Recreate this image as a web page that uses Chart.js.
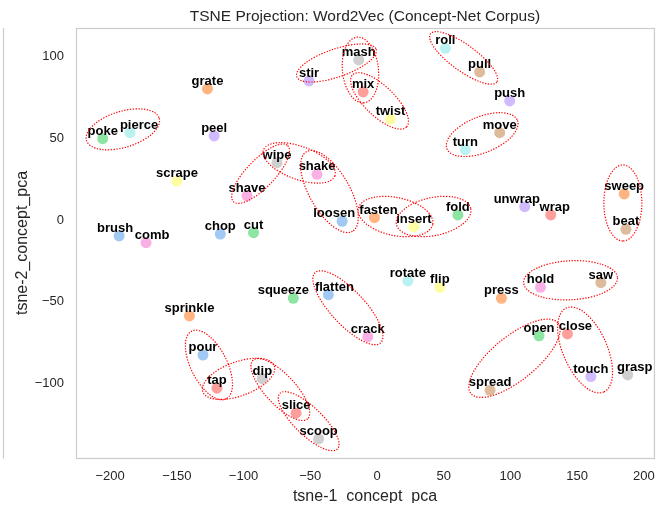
<!DOCTYPE html>
<html>
<head>
<meta charset="utf-8">
<script src="https://cdn.jsdelivr.net/npm/chart.js@4"></script>
<style>
  html, body { margin: 0; padding: 0; background: #fff; }
  canvas { display: block; }
</style>
</head>
<body>
<canvas id="tsneChart" width="666" height="505"></canvas>
<script>
// words and their t-SNE coordinates
const words = ["grate", "stir", "mash", "mix", "poke", "pierce", "peel", "wipe", "shake", "scrape",
    "shave", "loosen", "roll", "pull", "push", "twist", "move", "turn", "sweep", "unwrap",
    "wrap", "fold", "fasten", "insert", "brush", "comb", "chop", "cut", "squeeze", "flatten",
    "sprinkle", "pour", "tap", "dip", "slice", "scoop", "beat", "rotate", "flip", "press",
    "hold", "saw", "crack", "open", "close", "touch", "grasp", "spread"];
const xValues = [-127.0, -50.9, -13.7, -10.4, -205.5, -185.0, -122.0, -74.9, -44.9, -149.9,
    -97.4, -26.1, 51.2, 76.9, 99.4, 10.1, 91.9, 66.2, 185.2, 110.7,
    130.2, 60.6, -1.9, 27.6, -193.2, -173.0, -117.4, -92.5, -62.7, -36.4,
    -140.5, -130.4, -119.9, -85.9, -60.6, -43.7, 186.5, 23.1, 47.1, 93.2,
    122.5, 167.7, -6.9, 121.4, 142.7, 160.2, 187.8, 84.7];
const yValues = [80.1, 85.0, 97.9, 78.3, 49.7, 53.4, 51.4, 35.0, 27.9, 23.7,
    14.9, -0.8, 105.0, 90.5, 72.8, 61.6, 53.4, 43.0, 15.9, 8.1,
    3.1, 3.1, 1.4, -4.1, -9.8, -13.9, -8.6, -7.8, -47.9, -45.7,
    -58.7, -82.6, -102.9, -97.1, -118.2, -133.9, -5.7, -37.3, -41.2, -47.9,
    -41.2, -38.3, -71.4, -70.9, -69.7, -95.8, -94.8, -104.2];

const xTicks = [-200, -150, -100, -50, 0, 50, 100, 150, 200];
const yTicks = [-100, -50, 0, 50, 100];

// pastel colours, one per word
const pastel = {
    blue: "#a1c9f4", orange: "#ffb482", green: "#8de5a1", red: "#ff9f9b", purple: "#d0bbff",
    brown: "#debb9b", pink: "#fab0e4", gray: "#cfcfcf", yellow: "#fffea3", cyan: "#b9f2f0"
};
const pointColors = ["orange", "purple", "gray", "red", "green", "cyan", "purple", "gray", "pink", "yellow",
    "pink", "blue", "cyan", "brown", "purple", "yellow", "brown", "cyan", "orange", "purple",
    "red", "green", "orange", "yellow", "blue", "pink", "blue", "green", "green", "blue",
    "orange", "blue", "red", "gray", "red", "gray", "brown", "cyan", "yellow", "orange",
    "pink", "brown", "pink", "green", "red", "purple", "gray", "brown"].map(c => pastel[c]);

// a few labels were nudged sideways (px) so they don't collide
const labelShift = { pierce: 9, loosen: -8, unwrap: -8, wrap: 4, fasten: 4, brush: -4,
    comb: 6, squeeze: -10, flatten: 6, close: 8, grasp: 7 };

// red dotted rings around related pairs: centre in data units, radii (px) and tilt (deg)
const rings = [
    { cx: -190.4, cy: 55.4, a: 38, b: 18, angle: -17 },   // poke / pierce
    { cx: -30.4, cy: 96.0, a: 42, b: 14, angle: -19 },    // stir / mash
    { cx: -12.4, cy: 91.7, a: 33, b: 18, angle: 84 },     // mash / mix
    { cx: 1.9, cy: 72.8, a: 37.5, b: 15, angle: 44 },     // mix / twist
    { cx: 64.9, cy: 99.1, a: 41, b: 13, angle: 36 },      // roll / pull
    { cx: 78.8, cy: 52.2, a: 38, b: 18, angle: -22 },     // turn / move
    { cx: -87.2, cy: 28.3, a: 39, b: 14, angle: -46 },    // shave / wipe
    { cx: -58.3, cy: 34.9, a: 38, b: 16.5, angle: 20 },   // wipe / shake
    { cx: -35.6, cy: 17.4, a: 46, b: 20, angle: 60 },     // shake / loosen
    { cx: 13.9, cy: 2.1, a: 38, b: 19, angle: 12 },       // fasten / insert
    { cx: 42.4, cy: 2.1, a: 38, b: 19, angle: -12 },      // insert / fold
    { cx: 184.2, cy: 10.4, a: 38, b: 19, angle: 90 },     // sweep / beat
    { cx: 145.0, cy: -36.9, a: 47, b: 19.5, angle: -3 },  // hold / saw
    { cx: 103.0, cy: -84.6, a: 56, b: 22, angle: -39 },   // open / spread
    { cx: 155.9, cy: -79.5, a: 46, b: 22, angle: 66 },    // close / touch
    { cx: -21.8, cy: -53.7, a: 48, b: 17, angle: 47 },    // flatten / crack
    { cx: -125.9, cy: -88.7, a: 38, b: 18, angle: 63 },   // pour / tap
    { cx: -103.7, cy: -97.2, a: 38, b: 17, angle: -20 },  // tap / dip
    { cx: -72.4, cy: -103.7, a: 40, b: 15, angle: 47 },   // dip / slice
    { cx: -51.2, cy: -123.1, a: 40, b: 14, angle: 44 }    // slice / scoop
];

const FONT = '"Liberation Sans", Arial, sans-serif';
const minus = v => String(v).replace("-", "\u2212");

const overlay = {
    id: "overlay",
    afterDatasetsDraw(chart) {
        const ctx = chart.ctx;
        const xs = chart.scales.x, ys = chart.scales.y;
        const area = chart.chartArea;

        // word labels
        ctx.save();
        ctx.font = "bold 13px " + FONT;
        ctx.fillStyle = "#000";
        ctx.textAlign = "center";
        ctx.textBaseline = "alphabetic";
        words.forEach((w, i) => {
            const dx = labelShift[w] || 0;
            ctx.fillText(w, xs.getPixelForValue(xValues[i]) + dx, ys.getPixelForValue(yValues[i]) - 4);
        });
        ctx.restore();

        // rings
        ctx.save();
        ctx.strokeStyle = "#ff0000";
        ctx.lineWidth = 1.2;
        ctx.setLineDash([1.3, 1.5]);
        rings.forEach(r => {
            ctx.beginPath();
            ctx.ellipse(xs.getPixelForValue(r.cx), ys.getPixelForValue(r.cy), r.a, r.b,
                r.angle * Math.PI / 180, 0, Math.PI * 2);
            ctx.stroke();
        });
        ctx.restore();

        // frame round the plot, plus the edge of the neighbouring panel
        ctx.save();
        ctx.strokeStyle = "#cccccc";
        ctx.lineWidth = 1.2;
        ctx.strokeRect(area.left + 0.5, area.top + 0.5, area.right - area.left, area.bottom - area.top);
        ctx.beginPath();
        ctx.moveTo(3.5, area.top);
        ctx.lineTo(3.5, area.bottom + 0.5);
        ctx.stroke();
        ctx.restore();

        // title and axis titles
        ctx.save();
        ctx.fillStyle = "#262626";
        ctx.textAlign = "center";
        ctx.textBaseline = "middle";
        ctx.font = "15.5px " + FONT;
        ctx.fillText("TSNE Projection: Word2Vec (Concept-Net Corpus)", (area.left + area.right) / 2, 16.5);
        ctx.font = "16px " + FONT;
        ctx.textBaseline = "alphabetic";
        // the figure is cropped just under the x title's baseline
        ctx.save();
        ctx.beginPath();
        ctx.rect(0, 0, chart.width, 503);
        ctx.clip();
        ctx.fillText("tsne-1_concept_pca", (area.left + area.right) / 2, 501);
        ctx.restore();
        ctx.translate(27, (area.top + area.bottom) / 2);
        ctx.rotate(-Math.PI / 2);
        ctx.fillText("tsne-2_concept_pca", 0, 0);
        ctx.restore();
    }
};

new Chart(document.getElementById("tsneChart"), {
    type: "scatter",
    data: {
        datasets: [{
            label: "words",
            data: words.map((w, i) => ({ x: xValues[i], y: yValues[i] })),
            backgroundColor: pointColors,
            borderWidth: 0,
            pointRadius: 5.5,
            pointHoverRadius: 5.5
        }]
    },
    options: {
        responsive: false,
        animation: false,
        events: [],
        layout: { padding: { left: 0, right: 12, top: 28, bottom: 0 } },
        plugins: { legend: { display: false }, tooltip: { enabled: false }, title: { display: false } },
        scales: {
            x: {
                type: "linear",
                min: -225.5,
                max: 207.5,
                afterBuildTicks: s => { s.ticks = xTicks.map(v => ({ value: v })); },
                afterFit: s => { s.height = 47; },
                grid: { display: false, drawTicks: false },
                border: { display: false },
                ticks: { color: "#262626", padding: 11, font: { family: FONT, size: 13 }, callback: minus, maxRotation: 0 }
            },
            y: {
                type: "linear",
                min: -145.6,
                max: 117.4,
                afterBuildTicks: s => { s.ticks = yTicks.map(v => ({ value: v })); },
                afterFit: s => { s.width = 76; },
                grid: { display: false, drawTicks: false },
                border: { display: false },
                ticks: { color: "#262626", padding: 12, font: { family: FONT, size: 13 }, callback: minus }
            }
        }
    },
    plugins: [overlay]
});
</script>
</body>
</html>
